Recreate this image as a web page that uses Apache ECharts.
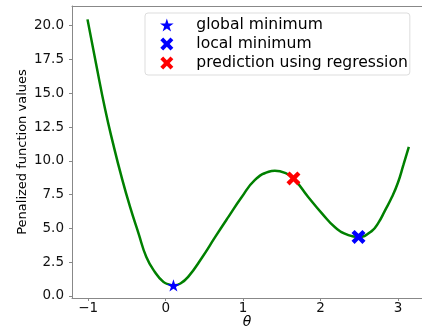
<!DOCTYPE html>
<html>
<head>
<meta charset="utf-8">
<script src="https://cdn.jsdelivr.net/npm/echarts@6/dist/echarts.min.js"></script>
<style>
  html, body { margin: 0; padding: 0; background: #fff; }
  #chart { width: 422px; height: 328px; }
</style>
</head>
<body>
<div id="chart"></div>
<script>
// curve
var thetaValues = [-1.01, -0.9, -0.78, -0.68, -0.57, -0.46, -0.35, -0.25, -0.14, -0.03, 0.04,
  0.11, 0.19, 0.29, 0.47, 0.64, 0.81, 0.98, 1.15, 1.33, 1.41, 1.54, 1.65, 1.84, 2.02, 2.19,
  2.36, 2.49, 2.66, 2.75, 2.83, 2.92, 3.0, 3.07, 3.14];
var penaltyValues = [20.47, 17.2, 13.76, 11.29, 8.81, 6.59, 4.62, 2.89, 1.78, 1.04, 0.86,
  0.79, 0.92, 1.41, 2.85, 4.37, 5.85, 7.3, 8.57, 9.19, 9.26, 9.11, 8.70, 7.33, 6.10, 5.07,
  4.50, 4.37, 4.8, 5.45, 6.3, 7.3, 8.4, 9.7, 11.04];

var globalMin = [0.1, 0.78];
var localMin = [2.49, 4.37];
var prediction = [1.65, 8.70];

var xTicks = [-1, 0, 1, 2, 3];
var yTicks = [0, 2.5, 5, 7.5, 10, 12.5, 15, 17.5, 20];

var starPath = 'path://M50,0 L61.23,34.55 L97.55,34.55 L68.17,55.9 L79.39,90.45 L50,69.1 L20.61,90.45 L31.83,55.9 L2.45,34.55 L38.77,34.55 Z';
var crossPath = 'path://M0,2.2 L2.2,0 L5,2.8 L7.8,0 L10,2.2 L7.2,5 L10,7.8 L7.8,10 L5,7.2 L2.2,10 L0,7.8 L2.8,5 Z';

var font = 'DejaVu Sans';
var curve = thetaValues.map(function (t, i) { return [t, penaltyValues[i]]; });

var myChart = echarts.init(document.getElementById('chart'));

var option = {
  animation: false,
  backgroundColor: '#fff',
  textStyle: { fontFamily: font },
  grid: { left: 72, right: 0, top: 6, bottom: 30, outerBoundsMode: 'none' },
  legend: {
    orient: 'vertical',
    left: 145,
    top: 13,
    padding: [3, 2, 3, 15],
    itemWidth: 21,
    itemHeight: 13,
    itemGap: 1,
    backgroundColor: 'rgba(255,255,255,0.8)',
    borderColor: '#ddd',
    borderWidth: 1,
    borderRadius: 3,
    textStyle: { fontFamily: font, fontSize: 15.6, color: '#000', lineHeight: 18, padding: [0, 0, 0, 14] },
    data: ['global minimum', 'local minimum', 'prediction using regression']
  },
  xAxis: [{
    type: 'value',
    min: -1.21,
    max: 3.31,
    name: 'θ',
    nameLocation: 'middle',
    nameGap: 17,
    nameMoveOverlap: false,
    nameTextStyle: { fontFamily: font, fontSize: 14, fontStyle: 'italic', color: '#000' },
    splitLine: { show: false },
    axisLine: { show: true, onZero: false, lineStyle: { color: '#888', width: 1 } },
    axisTick: { show: true, length: 3, lineStyle: { color: '#888' }, customValues: xTicks },
    axisLabel: {
      fontFamily: font, fontSize: 13.5, color: '#111', margin: 3,
      customValues: xTicks,
      formatter: function (v) { return v < 0 ? '\u2212' + Math.abs(v) : String(v); }
    }
  }, {
    type: 'value',
    position: 'top',
    min: -1.21,
    max: 3.31,
    splitLine: { show: false },
    axisLine: { show: true, onZero: false, lineStyle: { color: '#888', width: 1 } },
    axisTick: { show: false },
    axisLabel: { show: false }
  }],
  yAxis: {
    type: 'value',
    min: -0.15,
    max: 21.46,
    name: 'Penalized function values',
    nameLocation: 'middle',
    nameGap: 43,
    nameMoveOverlap: false,
    nameTextStyle: { fontFamily: font, fontSize: 13, color: '#000' },
    splitLine: { show: false },
    axisLine: { show: true, onZero: false, lineStyle: { color: '#888', width: 1 } },
    axisTick: { show: true, length: 3, lineStyle: { color: '#888' }, customValues: yTicks },
    axisLabel: {
      fontFamily: font, fontSize: 13.5, color: '#111', margin: 8,
      customValues: yTicks,
      formatter: function (v) { return v.toFixed(1); }
    }
  },
  series: [
    {
      name: 'curve',
      type: 'line',
      data: curve,
      smooth: 0.5,
      showSymbol: false,
      lineStyle: { color: '#008000', width: 2.5 },
      z: 2
    },
    {
      name: 'global minimum',
      type: 'scatter',
      data: [globalMin],
      symbol: starPath,
      symbolKeepAspect: true,
      symbolSize: 13,
      itemStyle: { color: '#0000ff', opacity: 1 },
      z: 5
    },
    {
      name: 'local minimum',
      type: 'scatter',
      data: [localMin],
      symbol: crossPath,
      symbolKeepAspect: true,
      symbolSize: 14,
      itemStyle: { color: '#0000ff', opacity: 1 },
      z: 5
    },
    {
      name: 'prediction using regression',
      type: 'scatter',
      data: [prediction],
      symbol: crossPath,
      symbolKeepAspect: true,
      symbolSize: 14,
      itemStyle: { color: '#ff0000', opacity: 1 },
      z: 5
    }
  ]
};

myChart.setOption(option);
</script>
</body>
</html>
